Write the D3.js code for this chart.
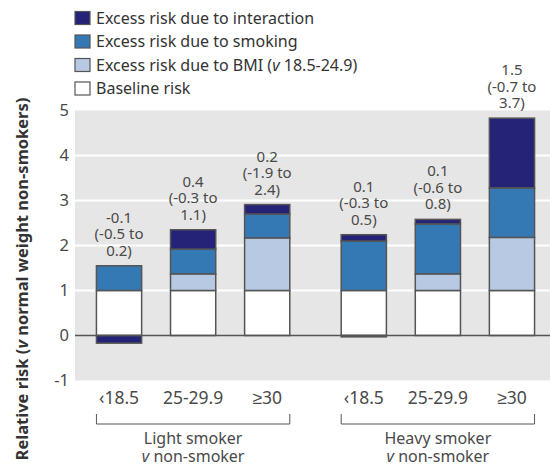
<!DOCTYPE html>
<html>
<head>
<meta charset="utf-8">
<script src="https://cdn.jsdelivr.net/npm/d3@7"></script>
<style>
  body { margin: 0; background: #fff; }
  svg { display: block; font-family: "Noto Sans", sans-serif; }
</style>
</head>
<body>
<div id="chart"></div>
<script>
// --- data ---
const groups = ['Light smoker', 'Heavy smoker'];
const bmiCats = ['\u203918.5', '25-29.9', '\u226530'];
const baseline = [1, 1, 1, 1, 1, 1];
const bmiExcess = [0, 0.37, 1.17, -0.03, 0.37, 1.18];
const smokingExcess = [0.55, 0.55, 0.53, 1.1, 1.11, 1.1];
const interactionExcess = [-0.17, 0.43, 0.21, 0.14, 0.1, 1.55];
const annotations = [
  ['-0.1', '(-0.5 to', '0.2)'],
  ['0.4', '(-0.3 to', '1.1)'],
  ['0.2', '(-1.9 to', '2.4)'],
  ['0.1', '(-0.3 to', '0.5)'],
  ['0.1', '(-0.6 to', '0.8)'],
  ['1.5', '(-0.7 to', '3.7)']
];
const yTicks = [-1, 0, 1, 2, 3, 4, 5];

const seriesDefs = [
  { key: 'baseline', label: 'Baseline risk', values: baseline, color: '#ffffff' },
  { key: 'bmi', label: 'Excess risk due to BMI', values: bmiExcess, color: '#b8c9e4' },
  { key: 'smoking', label: 'Excess risk due to smoking', values: smokingExcess, color: '#3579b4' },
  { key: 'interaction', label: 'Excess risk due to interaction', values: interactionExcess, color: '#252377' }
];

const width = 550, height = 466;
const plot = { left: 75, right: 550, top: 110.5, bottom: 380.5 };
const textColor = '#4a4a4a';

const svg = d3.select('#chart').append('svg')
  .attr('width', width).attr('height', height);

const y = d3.scaleLinear().domain([-1, 5]).range([plot.bottom, plot.top]);
const xGroup = d3.scaleBand().domain(groups).range([82, 549])
  .paddingInner(0.092).paddingOuter(0);
const xBar = d3.scaleBand().domain(bmiCats).range([0, xGroup.bandwidth()])
  .paddingInner(0.39).paddingOuter(0.195);

const bars = [];
groups.forEach((g, gi) => {
  bmiCats.forEach((c, ci) => {
    const i = gi * 3 + ci;
    let pos = 0, neg = 0;
    const segs = seriesDefs.map(s => {
      const v = s.values[i];
      let y0, y1;
      if (v >= 0) { y0 = pos; y1 = pos + v; pos = y1; }
      else { y1 = neg; y0 = neg + v; neg = y0; }
      return { key: s.key, color: s.color, y0, y1, v };
    }).filter(d => d.v !== 0);
    bars.push({ group: g, cat: c, x: xGroup(g) + xBar(c), top: pos, segs, note: annotations[i] });
  });
});

// background + grid
svg.append('rect')
  .attr('x', plot.left).attr('y', plot.top)
  .attr('width', plot.right - plot.left).attr('height', plot.bottom - plot.top)
  .attr('fill', '#e6e6e6');

svg.append('g').selectAll('line')
  .data(yTicks.filter(t => t > 0 && t < 5))
  .join('line')
  .attr('x1', plot.left).attr('x2', plot.right)
  .attr('y1', d => y(d)).attr('y2', d => y(d))
  .attr('stroke', '#fff').attr('stroke-width', 2);

// y axis labels (plain hyphen for the minus, as in the original)
const yAxis = svg.append('g')
  .attr('transform', `translate(${plot.left},0)`)
  .call(d3.axisLeft(y).tickValues(yTicks).tickSize(0).tickPadding(6).tickFormat(d => String(d)));
yAxis.select('.domain').remove();
yAxis.selectAll('text')
  .attr('font-size', 16.5).attr('fill', textColor)
  .attr('font-family', '"Noto Sans", sans-serif');

// stacked bars
const barG = svg.append('g').selectAll('g').data(bars).join('g');
barG.selectAll('rect')
  .data(d => d.segs.map(s => Object.assign({ x: d.x }, s)))
  .join('rect')
  .attr('x', d => d.x)
  .attr('width', xBar.bandwidth())
  .attr('y', d => y(d.y1))
  .attr('height', d => y(d.y0) - y(d.y1))
  .attr('fill', d => d.color)
  .attr('stroke', '#555')
  .attr('stroke-width', 1.5);

// zero line
svg.append('line')
  .attr('x1', plot.left).attr('x2', plot.right)
  .attr('y1', y(0)).attr('y2', y(0))
  .attr('stroke', '#555').attr('stroke-width', 1.5);

// annotations above bars
barG.append('text')
  .attr('text-anchor', 'middle')
  .attr('font-size', 15)
  .attr('fill', textColor)
  .each(function (d) {
    const t = d3.select(this);
    const n = d.note.length;
    d.note.forEach((line, li) => {
      t.append('tspan')
        .attr('x', d.x + xBar.bandwidth() / 2)
        .attr('y', y(d.top) - 10 - (n - 1 - li) * 16.5)
        .text(line);
    });
  });

// x tick labels
svg.append('g').selectAll('text')
  .data(bars)
  .join('text')
  .attr('x', d => d.x + xBar.bandwidth() / 2)
  .attr('y', 398)
  .attr('dy', '0.35em')
  .attr('text-anchor', 'middle')
  .attr('font-size', 17.5)
  .attr('fill', textColor)
  .text(d => d.cat);

// group brackets and labels
const bracket = svg.append('g').selectAll('g').data(groups).join('g');
bracket.append('path')
  .attr('d', g => {
    const x0 = xGroup(g) + xBar(bmiCats[0]);
    const x1 = xGroup(g) + xBar(bmiCats[2]) + xBar.bandwidth();
    return `M${x0},414V424H${x1}V414`;
  })
  .attr('fill', 'none').attr('stroke', '#555').attr('stroke-width', 1);
bracket.append('text')
  .attr('x', g => xGroup(g) + xGroup.bandwidth() / 2)
  .attr('y', 444)
  .attr('text-anchor', 'middle')
  .attr('font-size', 16)
  .attr('fill', textColor)
  .text(g => g);
const l2 = bracket.append('text')
  .attr('x', g => xGroup(g) + xGroup.bandwidth() / 2)
  .attr('y', 461.5)
  .attr('text-anchor', 'middle')
  .attr('font-size', 16)
  .attr('fill', textColor);
l2.append('tspan').attr('font-style', 'italic').text('v');
l2.append('tspan').text(' non-smoker');

// y axis title
const yTitle = svg.append('text')
  .attr('transform', 'translate(22,279) rotate(-90)')
  .attr('text-anchor', 'middle')
  .attr('dy', '0.35em')
  .attr('font-size', 16.5)
  .attr('font-weight', 'bold')
  .attr('fill', '#333');
yTitle.append('tspan').text('Relative risk (');
yTitle.append('tspan').attr('font-style', 'italic').text('v');
yTitle.append('tspan').text(' normal weight non-smokers)');

// legend (top to bottom: interaction, smoking, BMI, baseline)
const legendItems = seriesDefs.slice().reverse();
const legend = svg.append('g').selectAll('g').data(legendItems).join('g')
  .attr('transform', (d, i) => `translate(75,${18 + i * 23.5})`);
legend.append('rect')
  .attr('x', 0).attr('y', -6.5)
  .attr('width', 15).attr('height', 13)
  .attr('fill', d => d.color)
  .attr('stroke', '#555').attr('stroke-width', 1.2);
const legText = legend.append('text')
  .attr('x', 21).attr('dy', '0.35em')
  .attr('font-size', 16)
  .attr('fill', '#333');
legText.append('tspan').text(d => d.label);
legText.filter(d => d.key === 'bmi').each(function () {
  const t = d3.select(this);
  t.append('tspan').text(' (');
  t.append('tspan').attr('font-style', 'italic').text('v');
  t.append('tspan').text(' 18.5-24.9)');
});
</script>
</body>
</html>
